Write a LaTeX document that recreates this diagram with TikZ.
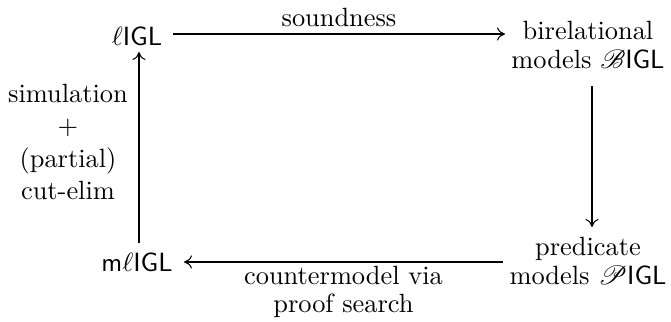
\documentclass[tikz,border=0pt]{standalone}
\usepackage{amsmath,amssymb,mathrsfs}
\usetikzlibrary{arrows.meta}
\tikzset{
  px/.style={x=0.379pt,y=-0.379pt},
  obj/.style={inner sep=0pt,align=center},
  lab/.style={inner sep=0pt,align=center},
  arr/.style={line width=0.4pt,-{Computer Modern Rightarrow[length=3pt,width=5pt]}}
}
\begin{document}
\begin{tikzpicture}[px]
\useasboundingbox (0,0) rectangle (671,322);
\node[obj] (l) at (137,36) {$\ell\mathsf{IGL}$};
\node[obj] (b) at (588,45) {birelational\\[-1pt]models $\mathscr{B}\mathsf{IGL}$};
\node[obj] (p) at (588,261) {predicate\\[-1pt]models $\mathscr{P}\mathsf{IGL}$};
\node[obj] (m) at (137,262) {$\mathsf{m}\ell\mathsf{IGL}$};
\coordinate (t1) at (173,34);
\coordinate (t2) at (505,34);
\coordinate (d1) at (592,86);
\coordinate (d2) at (592,227);
\coordinate (u1) at (139,243);
\coordinate (u2) at (139,52);
\coordinate (w1) at (503,262);
\coordinate (w2) at (184,262);
\draw[arr] (t1) -- node[lab,above=2.5pt] (s) {soundness} (t2);
\draw[arr] (d1) -- (d2);
\draw[arr] (w1) -- node[lab,below=1.5pt] (c) {countermodel via\\[-1.5pt]proof search} (w2);
\draw[arr] (u1) -- (u2);
\node[lab] (sim) at (68,142) {simulation\\[0.3pt]$+$\\[0.3pt](partial)\\[0.3pt]cut-elim};
\end{tikzpicture}
\end{document}
